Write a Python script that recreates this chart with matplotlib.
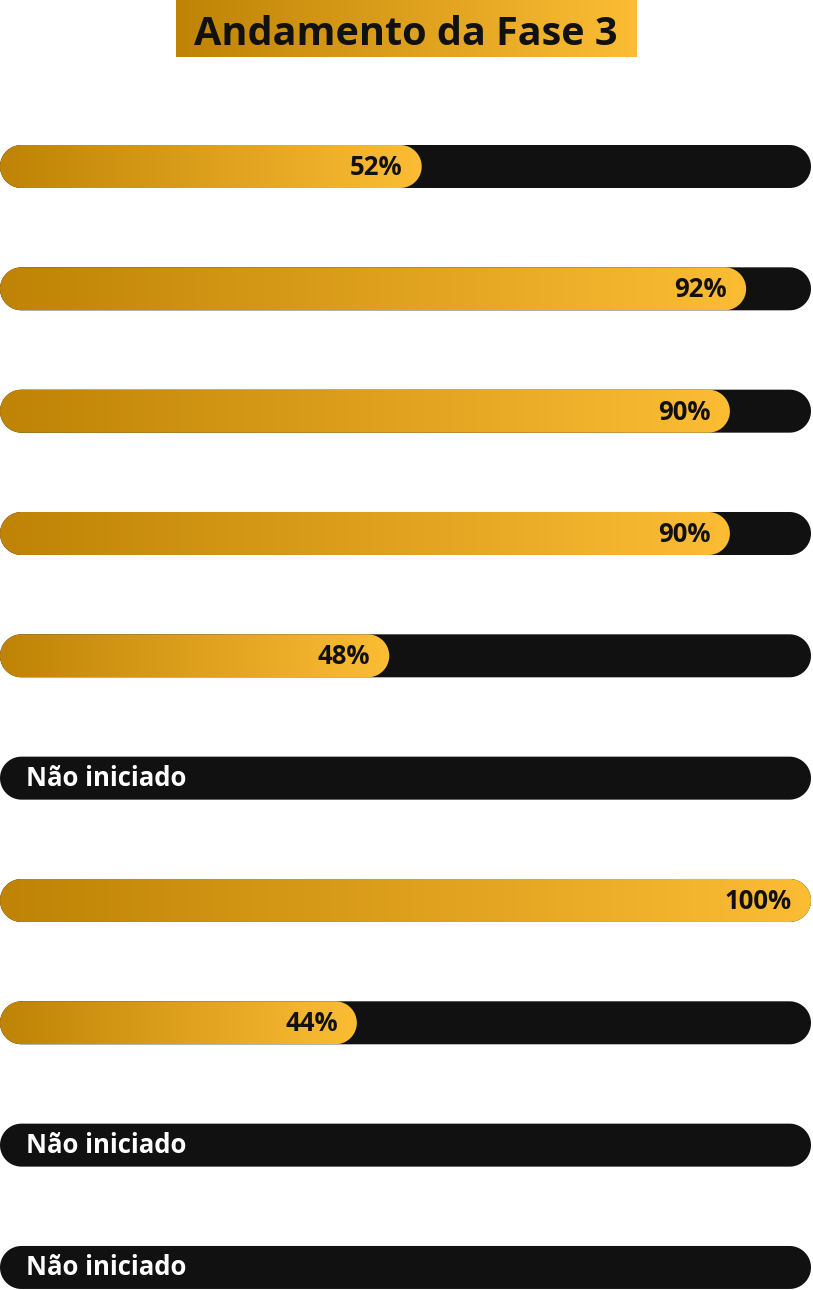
import numpy as np
import matplotlib
matplotlib.use('Agg')
import matplotlib.pyplot as plt
from matplotlib.patches import PathPatch, Rectangle
from matplotlib.path import Path
from matplotlib.colors import LinearSegmentedColormap

TITLE = 'Andamento da Fase 3'
progress = [52, 92, 90, 90, 48, 0, 100, 44, 0, 0]  # percent, 0 = not started
NOT_STARTED = 'Não iniciado'

W, H = 813, 1290
plt.rcParams['font.family'] = ['Open Sans', 'DejaVu Sans']

gold = LinearSegmentedColormap.from_list('gold', ['#bf8305', '#fcbd35'])
grad = np.linspace(0, 1, 256).reshape(1, -1)


def pill(x0, w, yc, r):
    # stadium shape: straight sides and half circles at both ends
    t1 = np.linspace(np.pi / 2, 3 * np.pi / 2, 40)
    t2 = np.linspace(-np.pi / 2, np.pi / 2, 40)
    left = np.column_stack([x0 + r + r * np.cos(t1), yc - r * np.sin(t1)])
    right = np.column_stack([x0 + w - r + r * np.cos(t2), yc - r * np.sin(t2)])
    pts = np.vstack([left, right, left[:1]])
    return Path(pts, closed=True)


fig = plt.figure(figsize=(W / 100, H / 100), dpi=100)
ax = fig.add_axes([0, 0, 1, 1])
ax.set_xlim(0, W)
ax.set_ylim(H, 0)
ax.axis('off')

## title box
tb = Rectangle((176, 0), 460, 57, facecolor='none', edgecolor='none')
ax.add_patch(tb)
im = ax.imshow(grad, cmap=gold, extent=(176, 636, 57, 0), aspect='auto', zorder=1)
im.set_clip_path(tb)
ax.text(406, 45, TITLE, ha='center', va='baseline', fontsize=28.5, fontweight='bold',
        color='#111111', zorder=3)

## bars
full = 811
bh = 43
r = bh / 2
y0 = 166.5
step = 122.33
for i, p in enumerate(progress):
    yc = y0 + i * step
    ax.add_patch(PathPatch(pill(0, full, yc, r), facecolor='#111111', edgecolor='none', zorder=1))
    if p > 0:
        w = full * p / 100
        fill = PathPatch(pill(0, w, yc, r), facecolor='none', edgecolor='none', zorder=2)
        ax.add_patch(fill)
        im = ax.imshow(grad, cmap=gold, extent=(0, w, yc + r, yc - r), aspect='auto', zorder=2)
        im.set_clip_path(fill)
        ax.text(w - 19, yc + 8.5, f'{p}%', ha='right', va='baseline', fontsize=18.5,
                fontweight='bold', color='#111111', zorder=3)
    else:
        ax.text(26, yc + 8, NOT_STARTED, ha='left', va='baseline', fontsize=18.5,
                fontweight='bold', color='white', zorder=3)

ax.set_xlim(0, W)
ax.set_ylim(H, 0)
fig.savefig('out.png', dpi=100)
